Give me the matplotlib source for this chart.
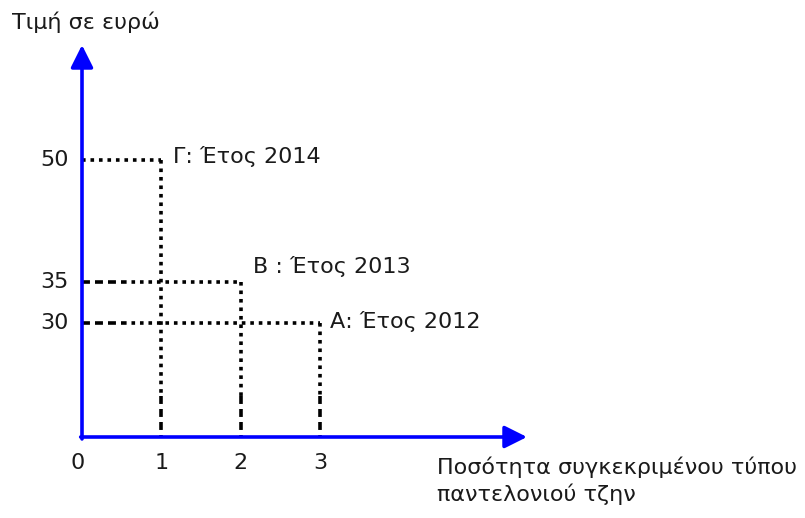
import matplotlib
matplotlib.use("Agg")
import matplotlib.pyplot as plt

# Data
points = ["Α", "Β", "Γ"]
years = ["2012", "2013", "2014"]
quantity = [3, 2, 1]
price = [30, 35, 50]
xticks = [0, 1, 2, 3]
yticks = [30, 35, 50]
ylabel = "Τιμή σε ευρώ"
xlabel = "Ποσότητα συγκεκριμένου τύπου\nπαντελονιού τζην"

plt.rcParams['font.family'] = ['DejaVu Sans']
W, H = 805, 518
fig = plt.figure(figsize=(W / 100, H / 100), dpi=100)
ax = fig.add_axes([82 / W, (H - 437) / H, (527 - 82) / W, (437 - 45) / H])
ax.set_xlim(0, 5.6)
ax.set_ylim(16.0, 64.1)
for s in ax.spines.values():
    s.set_visible(False)
ax.set_xticks([])
ax.set_yticks([])

dot = (0, (1.0, 1.35))
dash = (0, (2.2, 1.4))
lw = 2.6
ybreak = 21.0   # where vertical dotted lines turn into dashes
xbreak = 0.52   # where horizontal dashes turn into dots

for q, p in zip(quantity, price):
    # horizontal
    if p == max(price):
        ax.plot([0, q], [p, p], color='black', lw=lw, linestyle=dot)
    else:
        ax.plot([0, xbreak], [p, p], color='black', lw=lw, linestyle=dash)
        ax.plot([xbreak, q], [p, p], color='black', lw=lw, linestyle=dot)
    # vertical
    ax.plot([q, q], [p, ybreak], color='black', lw=lw, linestyle=dot)
    ax.plot([q, q], [ybreak, 16.0], color='black', lw=lw, linestyle=dash)

# axes arrows
arrow = dict(arrowstyle='-|>', color='#0000ff', lw=2.6, mutation_scale=34, shrinkA=0, shrinkB=0)
ax.annotate('', xy=(1, 0), xytext=(-0.003, 0), xycoords='axes fraction', arrowprops=arrow)
ax.annotate('', xy=(0, 1), xytext=(0, -0.005), xycoords='axes fraction', arrowprops=arrow)

fs = 16
tc = '#1a1a1a'
# tick labels
for t in xticks:
    ax.text(t - 0.05 * (t == 0), 16.0 - 3.2, str(t), ha='center', va='center', fontsize=fs, color=tc)
for t in yticks:
    ax.text(-0.17, t, str(t), ha='right', va='center', fontsize=fs, color=tc)

# point labels
offsets = {"Α": (0.12, 0.2), "Β": (0.15, 1.9), "Γ": (0.15, 0.4)}
for lab, yr, q, p in zip(points, years, quantity, price):
    dx, dy = offsets[lab]
    sep = " : " if lab == "Β" else ": "
    ax.text(q + dx, p + dy, f"{lab}{sep}Έτος {yr}", ha='left', va='center', fontsize=fs, color=tc)

fig.text(12 / W, 1 - 22 / H, ylabel, ha='left', va='center', fontsize=fs, color=tc)
fig.text(437 / W, 1 - 457 / H, xlabel, ha='left', va='top', fontsize=fs, color=tc, linespacing=1.3)

fig.savefig("out.png", dpi=100)
